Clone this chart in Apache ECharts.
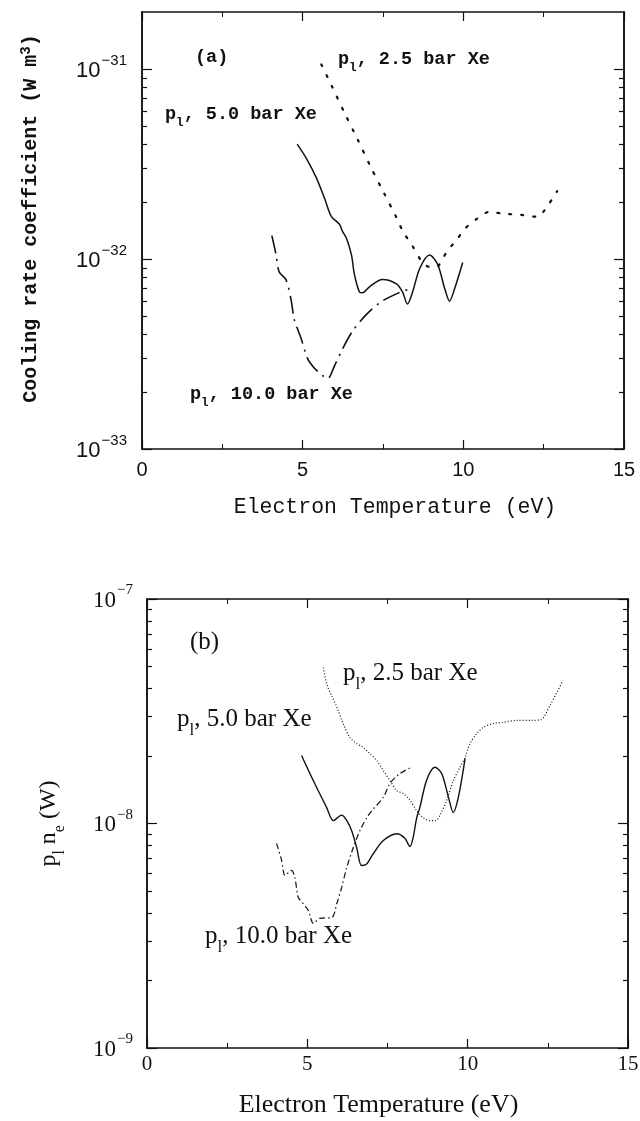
<!DOCTYPE html>
<html>
<head>
<meta charset="utf-8">
<script src="https://cdn.jsdelivr.net/npm/echarts@6/dist/echarts.min.js"></script>
<style>
html, body { margin: 0; padding: 0; background: #fff; }
#chart { width: 640px; height: 1121px; }
</style>
</head>
<body>
<div id="chart"></div>
<script>
// ---- 数据 (a) Cooling rate coefficient (W m^3) ----
const tA25 = [5.58, 5.9, 6.3, 6.7, 7.1, 7.5, 7.9, 8.12, 8.42, 8.73, 8.95, 9.17, 9.35, 9.51, 9.79, 10.04, 10.4, 10.8, 11.3, 11.8, 12.29, 12.66, 12.92];
const vA25 = [1.06e-31, 8.2e-32, 5.9e-32, 4.3e-32, 3.1e-32, 2.28e-32, 1.68e-32, 1.4e-32, 1.17e-32, 9.6e-33, 9.1e-33, 9.1e-33, 1.0e-32, 1.11e-32, 1.26e-32, 1.44e-32, 1.62e-32, 1.77e-32, 1.73e-32, 1.71e-32, 1.67e-32, 1.95e-32, 2.28e-32];

const tA50 = [4.83, 5.11, 5.43, 5.68, 5.89, 6.14, 6.24, 6.36, 6.52, 6.61, 6.77, 6.86, 7.08, 7.48, 7.92, 8.11, 8.26, 8.42, 8.64, 8.95, 9.2, 9.42, 9.57, 9.73, 9.98];
const vA50 = [4.03e-32, 3.4e-32, 2.67e-32, 2.09e-32, 1.68e-32, 1.53e-32, 1.4e-32, 1.29e-32, 1.05e-32, 8.3e-33, 6.7e-33, 6.65e-33, 7.15e-33, 7.8e-33, 7.4e-33, 6.7e-33, 5.8e-33, 6.7e-33, 8.9e-33, 1.05e-32, 9.4e-33, 7.0e-33, 6.0e-33, 7.0e-33, 9.6e-33];

const tA100 = [4.04, 4.17, 4.27, 4.48, 4.64, 4.74, 4.95, 5.15, 5.36, 5.6, 5.78, 5.99, 6.24, 6.55, 6.98, 7.45, 7.95, 8.26];
const vA100 = [1.33e-32, 1.06e-32, 8.55e-33, 7.8e-33, 6.1e-33, 4.8e-33, 3.83e-33, 3.0e-33, 2.67e-33, 2.45e-33, 2.35e-33, 2.74e-33, 3.36e-33, 4.17e-33, 5.1e-33, 5.97e-33, 6.6e-33, 6.9e-33];

// ---- 数据 (b) p1 ne (W) ----
const tB25 = [5.50, 5.60, 5.76, 5.92, 6.12, 6.33, 6.54, 6.74, 6.95, 7.16, 7.37, 7.58, 7.79, 7.99, 8.20, 8.41, 8.62, 8.82, 9.0, 9.14, 9.35, 9.55, 9.76, 9.92, 10.07, 10.28, 10.49, 10.80, 11.11, 11.53, 12.0, 12.28, 12.57, 12.97];
const vB25 = [4.95e-8, 4.2e-8, 3.7e-8, 3.3e-8, 2.78e-8, 2.41e-8, 2.27e-8, 2.18e-8, 2.05e-8, 1.91e-8, 1.72e-8, 1.55e-8, 1.40e-8, 1.36e-8, 1.27e-8, 1.14e-8, 1.06e-8, 1.03e-8, 1.03e-8, 1.09e-8, 1.27e-8, 1.55e-8, 1.78e-8, 1.97e-8, 2.27e-8, 2.51e-8, 2.68e-8, 2.79e-8, 2.82e-8, 2.88e-8, 2.88e-8, 2.9e-8, 3.36e-8, 4.33e-8];

const tB50 = [4.82, 5.08, 5.34, 5.60, 5.81, 6.07, 6.23, 6.38, 6.54, 6.69, 6.85, 7.06, 7.37, 7.79, 8.04, 8.20, 8.30, 8.41, 8.51, 8.72, 8.98, 9.19, 9.40, 9.55, 9.71, 9.92];
const vB50 = [2.01e-8, 1.67e-8, 1.40e-8, 1.18e-8, 1.03e-8, 1.09e-8, 1.03e-8, 9.3e-9, 7.8e-9, 6.5e-9, 6.6e-9, 7.35e-9, 8.4e-9, 9.0e-9, 8.6e-9, 7.9e-9, 8.67e-9, 1.06e-8, 1.18e-8, 1.56e-8, 1.78e-8, 1.67e-8, 1.31e-8, 1.12e-8, 1.31e-8, 1.95e-8];

const tB100 = [4.04, 4.20, 4.30, 4.41, 4.51, 4.61, 4.72, 4.87, 5.03, 5.19, 5.39, 5.76, 5.92, 6.07, 6.23, 6.43, 6.64, 6.85, 7.01, 7.37, 7.58, 7.89, 8.25];
const vB100 = [8.15e-9, 6.84e-9, 5.87e-9, 6.05e-9, 6.18e-9, 5.75e-9, 4.68e-9, 4.4e-9, 4.1e-9, 3.59e-9, 3.78e-9, 3.81e-9, 4.4e-9, 5.19e-9, 6.37e-9, 7.8e-9, 9.3e-9, 1.06e-8, 1.14e-8, 1.31e-8, 1.51e-8, 1.67e-8, 1.78e-8];

// 刻度 / 坐标范围
const majorA = [1e-33, 1e-32, 1e-31];
const majorB = [1e-9, 1e-8, 1e-7];
const rangeA = [1e-33, 2e-31];
const rangeB = [1e-9, 1e-7];

// (a) 的数值太小，ECharts 取整精度会丢失，按 1e-33 为单位绘制
const UNIT_A = 1e-33;

function minorTicks(fromExp, toExp) {
	const out = [];
	for (let e = fromExp; e < toExp; e++) {
		for (let m = 2; m <= 9; m++) out.push(m * Math.pow(10, e));
	}
	return out;
}
const minorA = minorTicks(-33, -31);
const minorB = minorTicks(-9, -7);

const pairs = (t, v, unit) => t.map((x, i) => [x, v[i] / unit]);

const SANS = "'Liberation Sans', Arial, sans-serif";
const MONO = "'Liberation Mono', 'Courier New', monospace";
const SERIF = "'Liberation Serif', 'Times New Roman', serif";
const INK = "#111";

function expFormatter(unit) {
	return function (v) {
		const e = Math.round(Math.log10(v * unit));
		return "{b|10}{s|\u2212" + (-e) + "}";
	};
}

// x 轴（上下各一条，构成边框）
function xAxisCfg(grid, pos, font, show) {
	return {
		type: "value", gridIndex: grid, position: pos, min: 0, max: 15, interval: 5,
		axisLine: { show: true, lineStyle: { color: INK, width: 1.5 } },
		axisTick: { show: true, inside: true, length: 9, lineStyle: { color: INK, width: 1.2 } },
		minorTick: { show: true, splitNumber: 2, length: 5, lineStyle: { color: INK, width: 1 } },
		splitLine: { show: false },
		axisLabel: {
			show: show, showMinLabel: true, showMaxLabel: true,
			margin: grid === 0 ? 11 : 6,
			color: INK, fontFamily: font, fontSize: grid === 0 ? 20 : 21,
		},
	};
}

// y 轴（对数），major / minor 分开
function yAxisCfg(grid, pos, range, ticks, len, unit, labels, font) {
	const cfg = {
		type: "log", logBase: 10, gridIndex: grid, position: pos,
		min: range[0] / unit, max: range[1] / unit,
		axisLine: { show: true, lineStyle: { color: INK, width: 1.5 } },
		axisTick: { show: true, inside: true, length: len, customValues: ticks.map((v) => v / unit), lineStyle: { color: INK, width: 1.2 } },
		minorTick: { show: false },
		splitLine: { show: false },
		axisLabel: { show: false },
	};
	if (labels) {
		cfg.axisLabel = {
			show: true, customValues: ticks.map((v) => v / unit), margin: grid === 0 ? 15 : 14,
			formatter: expFormatter(unit), color: INK,
			rich: {
				b: { fontFamily: font, fontSize: grid === 0 ? 22 : 23, color: INK, verticalAlign: "bottom", lineHeight: 26 },
				s: { fontFamily: font, fontSize: 15, color: INK, verticalAlign: "bottom", lineHeight: 26, padding: [0, 0, 14, 1] },
			},
		};
	}
	return cfg;
}

const xA = xAxisCfg(0, "bottom", SANS, true);
xA.name = "Electron Temperature (eV)";
xA.nameLocation = "middle";
xA.nameGap = 47;
xA.nameTextStyle = { fontFamily: MONO, fontSize: 21.5, color: INK, padding: [0, 0, 0, 24] };

const xB = xAxisCfg(1, "bottom", SERIF, true);
xB.name = "Electron Temperature (eV)";
xB.nameLocation = "middle";
xB.nameGap = 44;
xB.nameTextStyle = { fontFamily: SERIF, fontSize: 26, color: INK, padding: [0, 18, 0, 0] };

const yA = yAxisCfg(0, "left", rangeA, majorA, 10, UNIT_A, true, SANS);
yA.name = "Cooling rate coefficient (W m{sup|3})";
yA.nameLocation = "middle";
yA.nameRotate = 90;
yA.nameGap = 99;
yA.nameTextStyle = {
	fontFamily: MONO, fontSize: 20, fontWeight: "bold", color: INK, verticalAlign: "bottom",
	padding: [0, 0, 0, 24],
	rich: {
		sup: { fontFamily: MONO, fontSize: 14, fontWeight: "bold", color: INK, verticalAlign: "bottom", padding: [0, 0, 10, 0] },
	},
};

const yB = yAxisCfg(1, "left", rangeB, majorB, 10, 1, true, SERIF);
yB.name = "{m|p}{sub|l}{m| n}{sub|e}{m| (W)}";
yB.nameLocation = "middle";
yB.nameRotate = 90;
yB.nameGap = 79;
yB.nameTextStyle = {
	color: INK,
	rich: {
		m: { fontFamily: SERIF, fontSize: 24, color: INK, verticalAlign: "bottom", padding: [0, 0, 7, 0] },
		sub: { fontFamily: SERIF, fontSize: 16, color: INK, verticalAlign: "bottom" },
	},
};

// 图中标注（带下标）
function note(x, y, txt, font, size, bold) {
	const w = bold ? "bold" : "normal";
	return {
		type: "text", x: x, y: y, silent: true,
		style: {
			text: txt, fill: INK, align: "left", verticalAlign: "middle",
			rich: {
				m: { fontFamily: font, fontSize: size, fontWeight: w, fill: INK, verticalAlign: "bottom", padding: [0, 0, Math.round(size * 0.28), 0] },
				sub: { fontFamily: font, fontSize: size * 0.68, fontWeight: w, fill: INK, verticalAlign: "bottom" },
			},
		},
	};
}

const chart = echarts.init(document.getElementById("chart"));

chart.setOption({
	animation: false,
	backgroundColor: "#fff",
	grid: [
		{ left: 142, top: 12, width: 482, height: 437, outerBoundsMode: "none", containLabel: false },
		{ left: 147, top: 599, width: 481, height: 449, outerBoundsMode: "none", containLabel: false },
	],
	xAxis: [
		xA,
		xAxisCfg(0, "top", SANS, false),
		xB,
		xAxisCfg(1, "top", SERIF, false),
	],
	yAxis: [
		yA,
		yAxisCfg(0, "left", rangeA, minorA, 5, UNIT_A, false),
		yAxisCfg(0, "right", rangeA, majorA, 10, UNIT_A, false),
		yAxisCfg(0, "right", rangeA, minorA, 5, UNIT_A, false),
		yB,
		yAxisCfg(1, "left", rangeB, minorB, 5, 1, false),
		yAxisCfg(1, "right", rangeB, majorB, 10, 1, false),
		yAxisCfg(1, "right", rangeB, minorB, 5, 1, false),
	],
	series: [
		{
			name: "p1, 2.5 bar Xe (a)", type: "line", xAxisIndex: 0, yAxisIndex: 0,
			data: pairs(tA25, vA25, UNIT_A), showSymbol: false, smooth: 0.3,
			lineStyle: { color: INK, width: 2.2, type: [2, 10], cap: "round" },
		},
		{
			name: "p1, 5.0 bar Xe (a)", type: "line", xAxisIndex: 0, yAxisIndex: 0,
			data: pairs(tA50, vA50, UNIT_A), showSymbol: false, smooth: 0.3,
			lineStyle: { color: INK, width: 1.5, type: "solid" },
		},
		{
			name: "p1, 10.0 bar Xe (a)", type: "line", xAxisIndex: 0, yAxisIndex: 0,
			data: pairs(tA100, vA100, UNIT_A), showSymbol: false, smooth: 0.3,
			lineStyle: { color: INK, width: 1.6, type: [18, 6, 2, 6] },
		},
		{
			name: "p1, 2.5 bar Xe (b)", type: "line", xAxisIndex: 2, yAxisIndex: 4,
			data: pairs(tB25, vB25, 1), showSymbol: false, smooth: 0.3,
			lineStyle: { color: INK, width: 1.2, type: [1, 2] },
		},
		{
			name: "p1, 5.0 bar Xe (b)", type: "line", xAxisIndex: 2, yAxisIndex: 4,
			data: pairs(tB50, vB50, 1), showSymbol: false, smooth: 0.3,
			lineStyle: { color: INK, width: 1.4, type: "solid" },
		},
		{
			name: "p1, 10.0 bar Xe (b)", type: "line", xAxisIndex: 2, yAxisIndex: 4,
			data: pairs(tB100, vB100, 1), showSymbol: false, smooth: 0.3,
			lineStyle: { color: INK, width: 1.2, type: [6, 3, 1.5, 3] },
		},
	],
	graphic: [
		note(195, 60, "{m|(a)}", MONO, 18.5, true),
		note(338, 62, "{m|p}{sub|l}{m|, 2.5 bar Xe}", MONO, 18.5, true),
		note(165, 117, "{m|p}{sub|l}{m|, 5.0 bar Xe}", MONO, 18.5, true),
		note(190, 397, "{m|p}{sub|l}{m|, 10.0 bar Xe}", MONO, 18.5, true),
		note(190, 646, "{m|(b)}", SERIF, 25, false),
		note(343, 677, "{m|p}{sub|l}{m|, 2.5 bar Xe}", SERIF, 25, false),
		note(177, 723, "{m|p}{sub|l}{m|, 5.0 bar Xe}", SERIF, 25, false),
		note(205, 940, "{m|p}{sub|l}{m|, 10.0 bar Xe}", SERIF, 25, false),
	],
});

window.addEventListener("resize", () => chart.resize());
</script>
</body>
</html>
